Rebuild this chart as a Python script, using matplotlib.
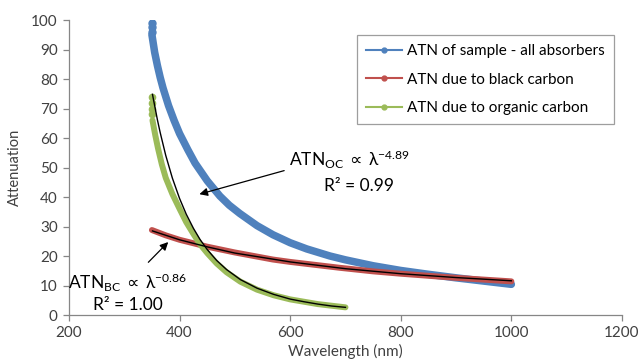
import matplotlib
matplotlib.use("Agg")
import matplotlib.pyplot as plt
from matplotlib.lines import Line2D

plt.rcParams['font.family'] = ['Lato', 'DejaVu Sans']
plt.rcParams['mathtext.fontset'] = 'custom'
plt.rcParams['mathtext.rm'] = 'Lato'
plt.rcParams['mathtext.it'] = 'Lato:italic'
plt.rcParams['mathtext.bf'] = 'Lato:bold'
plt.rcParams['mathtext.sf'] = 'DejaVu Sans'

# values
blue_wl = [350, 355, 360, 365, 370, 380, 390, 400, 415, 428, 450, 473, 490, 509,
           540, 569, 600, 630, 672, 700, 750, 800, 850, 900, 950, 1000]
blue_atn = [95, 89, 84.5, 80.5, 77, 71, 66, 61.5, 56, 51.5, 45.5, 40.3, 37.2, 34.4,
            30.3, 27.2, 24.5, 22.4, 20.0, 18.7, 16.7, 15.1, 13.8, 12.6, 11.5, 10.4]
blue_start_wl = [350, 350, 351]
blue_start_atn = [99, 97.5, 96]

red_wl = [350, 375, 400, 449, 500, 569, 600, 672, 690, 750, 800, 900, 1000]
red_atn = [28.8, 27, 25.5, 23.2, 21.2, 18.8, 18.0, 16.4, 16.0, 14.8, 14.0, 12.6, 11.4]

green_wl = [351, 356, 361, 368, 375, 387, 400, 412, 425, 437, 450, 467, 485, 510,
            540, 570, 600, 650, 700]
green_atn = [66, 61, 56.5, 51, 46.5, 41, 36, 31.5, 27.5, 24, 21, 17.5, 14.5, 11.3,
             8.6, 6.7, 5.3, 3.7, 2.6]
green_start_wl = [350, 350, 350, 351]
green_start_atn = [74, 72, 70, 68]

bc_fit_wl = [351, 400, 450, 500, 600, 700, 800, 900, 1000]
bc_fit_atn = [28.5, 25.5, 23.1, 21.0, 18.0, 15.7, 14.0, 12.7, 11.6]

oc_fit_wl = [351, 360, 365, 375, 387, 400, 412, 425, 437, 450, 467, 485, 510, 540,
             570, 600, 625, 650, 675, 700]
oc_fit_atn = [74.8, 66.1, 61.8, 54.1, 46.4, 39.5, 34.2, 29.4, 25.6, 22.2, 18.5, 15.4,
              12.0, 9.1, 7.0, 5.4, 4.5, 3.7, 3.05, 2.6]

labels = ['ATN of sample - all absorbers', 'ATN due to black carbon',
          'ATN due to organic carbon']
colors = ['#4F81BD', '#C0504D', '#9BBB59']

fig = plt.figure(figsize=(6.41, 3.63), dpi=100)
ax = fig.add_axes([0.1076, 0.1322, 0.8627, 0.8127])

line_kw = dict(solid_capstyle='round', solid_joinstyle='round')
ax.plot(blue_wl, blue_atn, color=colors[0], lw=5.4, **line_kw)
ax.plot(blue_start_wl, blue_start_atn, 'o', color=colors[0], ms=5)
ax.plot(red_wl, red_atn, color=colors[1], lw=4.3, **line_kw)
ax.plot(green_wl, green_atn, color=colors[2], lw=4.3, **line_kw)
ax.plot(green_start_wl, green_start_atn, 'o', color=colors[2], ms=4.5)
ax.plot(bc_fit_wl, bc_fit_atn, color='black', lw=1.0)
ax.plot(oc_fit_wl, oc_fit_atn, color='black', lw=1.0)

ax.set_xlim(200, 1200)
ax.set_ylim(0, 100)
ax.set_xticks(range(200, 1201, 200))
ax.set_yticks(range(0, 101, 10))
for s in ['top', 'right']:
    ax.spines[s].set_visible(False)
for s in ['left', 'bottom']:
    ax.spines[s].set_color('#868686')
    ax.spines[s].set_linewidth(0.9)
ax.tick_params(colors='#868686', length=4.5, width=0.9, labelsize=11,
               labelcolor='#404040', direction='out')
ax.set_xlabel('Wavelength (nm)', fontsize=11, color='#404040', labelpad=3)
ax.set_ylabel('Attenuation', fontsize=10.5, color='#404040', labelpad=7)

# fit annotations
ax.annotate('', xy=(431, 40.7), xytext=(594, 49.2),
            arrowprops=dict(arrowstyle='-|>', color='black', lw=0.9,
                            mutation_scale=12))
ax.text(708, 52.5, r'ATN$_{\mathrm{OC}}\;\mathsf{\propto}\;$λ$^{-4.89}$',
        fontsize=12.5, ha='center', va='center', color='black')
ax.text(724, 43.7, 'R² = 0.99', fontsize=12.5, ha='center', va='center',
        color='black')

ax.annotate('', xy=(383, 25.4), xytext=(340, 17.2),
            arrowprops=dict(arrowstyle='-|>', color='black', lw=0.9,
                            mutation_scale=12))
ax.text(306, 10.8, r'ATN$_{\mathrm{BC}}\;\mathsf{\propto}\;$λ$^{-0.86}$',
        fontsize=12.5, ha='center', va='center', color='black')
ax.text(306, 3.4, 'R² = 1.00', fontsize=12.5, ha='center', va='center',
        color='black')

handles = [Line2D([], [], color=c, lw=1.5, marker='o', markersize=3.5)
           for c in colors]
leg = ax.legend(handles, labels, loc='upper right', bbox_to_anchor=(0.9855, 0.949),
                fontsize=11, frameon=True, fancybox=False, handlelength=2.4,
                labelspacing=0.95, handletextpad=0.3, borderpad=0.6,
                borderaxespad=0)
leg.get_frame().set_edgecolor('#868686')
leg.get_frame().set_linewidth(0.9)

fig.savefig('out.png', dpi=100)
